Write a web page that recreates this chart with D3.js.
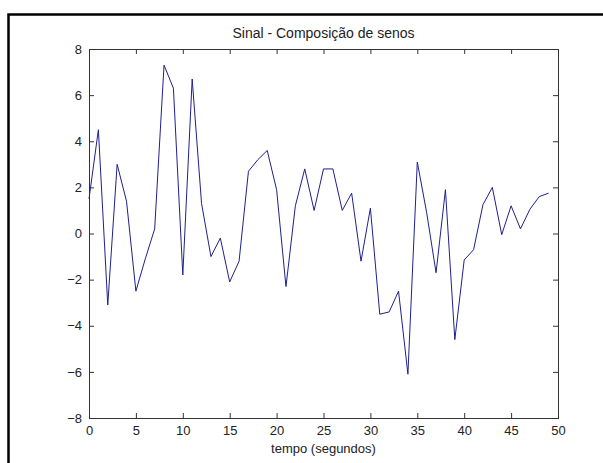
<!DOCTYPE html>
<head>
    <meta charset="utf-8">
    <script src="https://d3js.org/d3.v7.min.js"></script>
    <style>
        body { margin:0; background:#fff; }
        text { font-family: "Liberation Sans", Arial, sans-serif; fill: #222; }
        .tick text { font-size: 13px; }
        .axisBox { fill: none; stroke: #333; stroke-width: 1; }
        .signal { fill: none; stroke: #1f1f8f; stroke-width: 1; }
        .frame { fill: none; stroke: #000; stroke-width: 2.5; }
    </style>
</head>
<body>
<script>
    // tempo (s) e amplitude
    var tempo = d3.range(0, 50);
    var sinal = [1.5, 4.5, -3.1, 3.0, 1.4, -2.5, -1.1, 0.2, 7.3, 6.3,
                 -1.8, 6.7, 1.3, -1.0, -0.2, -2.1, -1.2, 2.7, 3.2, 3.6,
                 1.9, -2.3, 1.2, 2.8, 1.0, 2.8, 2.8, 1.0, 1.75, -1.2,
                 1.1, -3.5, -3.4, -2.5, -6.1, 3.1, 0.9, -1.7, 1.9, -4.6,
                 -1.15, -0.7, 1.25, 2.0, -0.05, 1.2, 0.2, 1.05, 1.6, 1.75];
    var xTicks = [0, 5, 10, 15, 20, 25, 30, 35, 40, 45, 50];
    var yTicks = [-8, -6, -4, -2, 0, 2, 4, 6, 8];
    var titulo = "Sinal - Composição de senos";
    var xRotulo = "tempo (segundos)";

    var width = 603, height = 463;
    // caixa dos eixos (nao usar "top": conflita com window.top)
    var box = { left: 89, right: 558, top: 49, bottom: 418 };

    var svg = d3.select("body").append("svg")
        .attr("width", width)
        .attr("height", height);

    // moldura externa (recortada pela imagem)
    svg.append("rect").attr("class", "frame")
        .attr("x", 8.5).attr("y", 14.5)
        .attr("width", 700).attr("height", 600);

    var x = d3.scaleLinear().domain([0, 50]).range([box.left, box.right]);
    var y = d3.scaleLinear().domain([-8, 8]).range([box.bottom, box.top]);

    function styleAxis(g) {
        g.select(".domain").remove();
        g.selectAll(".tick line").attr("stroke", "#333");
    }

    svg.append("g")
        .attr("transform", "translate(0," + box.bottom + ")")
        .call(d3.axisBottom(x).tickValues(xTicks).tickSize(-5).tickPadding(8))
        .call(styleAxis);
    svg.append("g")
        .attr("transform", "translate(0," + box.top + ")")
        .call(d3.axisTop(x).tickValues(xTicks).tickSize(-5).tickFormat(""))
        .call(styleAxis);
    svg.append("g")
        .attr("transform", "translate(" + box.left + ",0)")
        .call(d3.axisLeft(y).tickValues(yTicks).tickSize(-5).tickPadding(7))
        .call(styleAxis);
    svg.append("g")
        .attr("transform", "translate(" + box.right + ",0)")
        .call(d3.axisRight(y).tickValues(yTicks).tickSize(-5).tickFormat(""))
        .call(styleAxis);

    svg.selectAll(".tick text").attr("fill", "#222");

    svg.append("rect").attr("class", "axisBox")
        .attr("x", box.left + 0.5).attr("y", box.top + 0.5)
        .attr("width", box.right - box.left).attr("height", box.bottom - box.top);

    var line = d3.line()
        .x(function(d, i) { return x(tempo[i]); })
        .y(function(d) { return y(d); });

    svg.append("path").datum(sinal)
        .attr("class", "signal")
        .attr("d", line);

    svg.append("text")
        .attr("x", (box.left + box.right) / 2).attr("y", 38)
        .attr("text-anchor", "middle")
        .style("font-size", "14px")
        .text(titulo);

    svg.append("text")
        .attr("x", (box.left + box.right) / 2).attr("y", 453)
        .attr("text-anchor", "middle")
        .style("font-size", "13px")
        .text(xRotulo);
</script>
</body>
